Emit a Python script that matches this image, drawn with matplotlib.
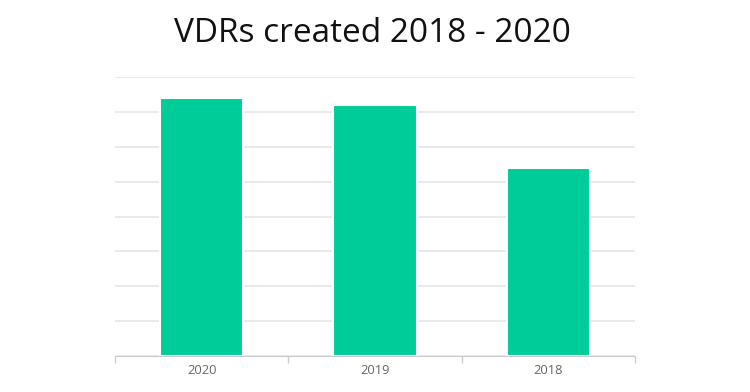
import matplotlib
matplotlib.use("Agg")
import matplotlib.pyplot as plt
import numpy as np

years = ["2020", "2019", "2018"]
vdrs_created = [7.41, 7.21, 5.4]
grid_steps = [0, 1, 2, 3, 4, 5, 6, 7, 8]

plt.rcParams["font.family"] = ["Open Sans", "DejaVu Sans"]

fig = plt.figure(figsize=(7.5, 3.92), dpi=100)
ax = fig.add_axes([0.1533, 0.0918, 0.6934, 0.7118])

x = np.arange(len(years))
ax.bar(x, vdrs_created, width=0.48, color="#00CC99", edgecolor="white",
       linewidth=1.5, zorder=3)

ax.set_xlim(-0.5, len(years) - 0.5)
ax.set_ylim(grid_steps[0], grid_steps[-1])
ax.set_yticks(grid_steps)
ax.yaxis.grid(True, color="#e6e6e6", linewidth=1.2, zorder=0)
ax.tick_params(axis="y", length=0, labelleft=False)

ax.set_xticks(x)
ax.set_xticklabels(years, color="#666666", fontsize=9.3)
ax.set_xticks(np.arange(len(years) + 1) - 0.5, minor=True)
ax.tick_params(axis="x", which="major", length=0, pad=6)
ax.tick_params(axis="x", which="minor", length=5, color="#cccccc", width=1)

for side in ["top", "right", "left"]:
    ax.spines[side].set_visible(False)
ax.spines["bottom"].set_color("#cccccc")
ax.spines["bottom"].set_zorder(4)

fig.text(0.496, 0.915, "VDRs created 2018 - 2020", ha="center", va="center",
         fontsize=24, color="#111111")

fig.savefig("out.png", dpi=100, facecolor="white")
